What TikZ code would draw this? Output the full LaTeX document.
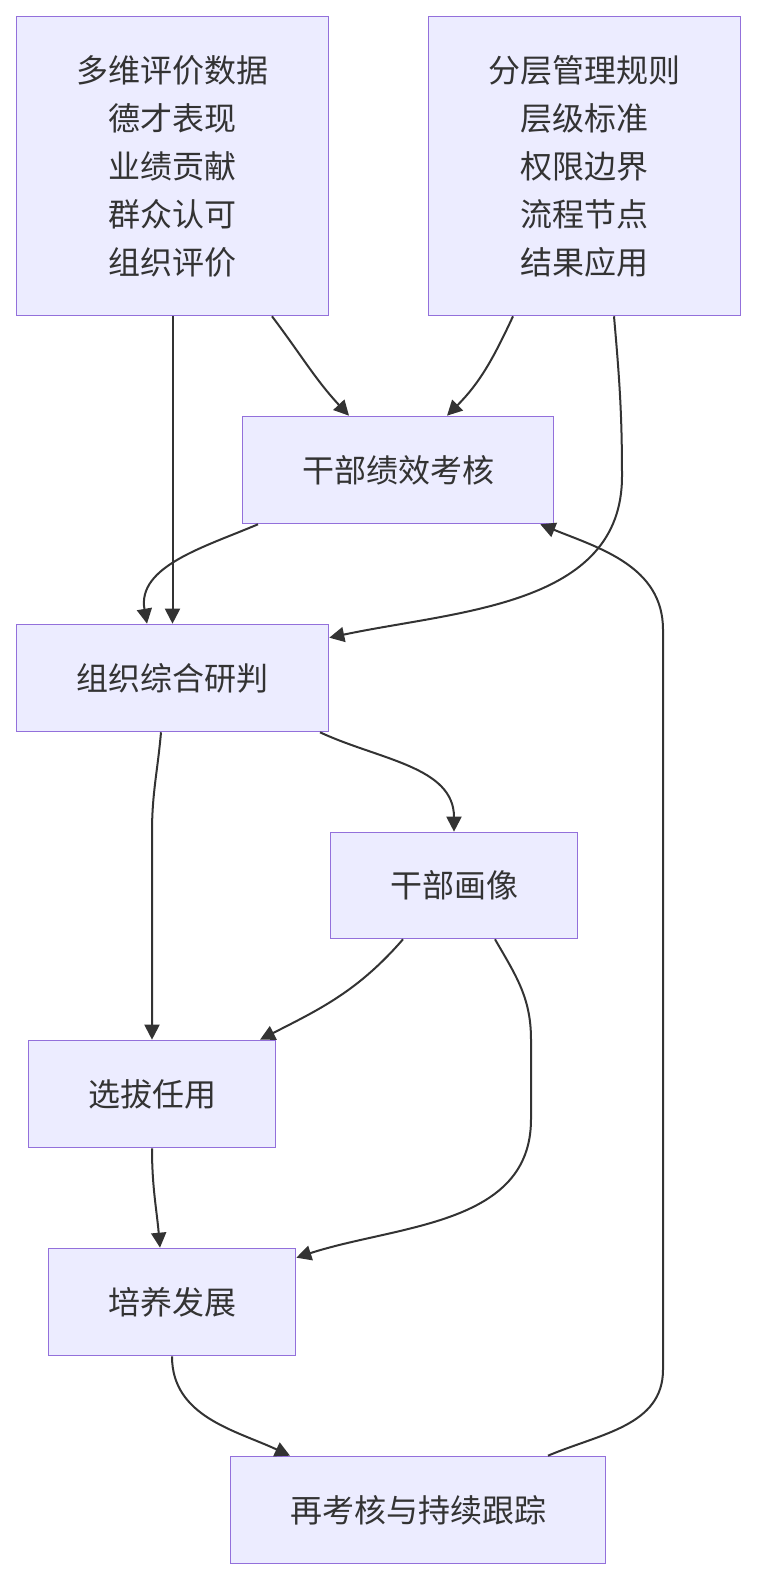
\documentclass[tikz,border=0pt]{standalone}
\usepackage{fontspec}
\setmainfont{Noto Sans CJK SC}
\usetikzlibrary{arrows.meta}
\definecolor{nen}{HTML}{ECECFF}
\definecolor{vien}{HTML}{9370DB}
\definecolor{chu}{HTML}{333333}
\begin{document}
\begin{tikzpicture}[x=1pt,y=1pt,
		khoi/.style={draw=vien,fill=nen,line width=1.6pt,inner sep=0pt,align=center,text=chu,font=\fontsize{32}{48}\selectfont},
		mui/.style={draw=chu,line width=2pt,-{Triangle[length=15pt,width=15pt]}}]
		\useasboundingbox (0,0) rectangle (756,1580);
		% Các khối
		\node[khoi,minimum width=312pt,minimum height=299pt] (shuju) at (172.5,1414) {多维评价数据\\德才表现\\业绩贡献\\群众认可\\组织评价};
		\node[khoi,minimum width=312pt,minimum height=299pt] (guize) at (584.5,1414) {分层管理规则\\层级标准\\权限边界\\流程节点\\结果应用};
		\node[khoi,minimum width=311pt,minimum height=107pt] (kaohe) at (398,1110) {干部绩效考核};
		\node[khoi,minimum width=312pt,minimum height=107pt] (yanpan) at (172.5,902) {组织综合研判};
		\node[khoi,minimum width=247pt,minimum height=106pt] (huaxiang) at (454,694.5) {干部画像};
		\node[khoi,minimum width=247pt,minimum height=107pt] (xuanba) at (152,486) {选拔任用};
		\node[khoi,minimum width=247pt,minimum height=107pt] (peiyang) at (172,278) {培养发展};
		\node[khoi,minimum width=375pt,minimum height=107pt] (genzong) at (418,70) {再考核与持续跟踪};
		% Các mũi tên
		\draw[mui] ([xshift=99.5pt]shuju.south) to[out=-53,in=133] ([xshift=-49pt]kaohe.north);
		\draw[mui] ([xshift=-71.5pt]guize.south) to[out=-115,in=45] ([xshift=49pt]kaohe.north);
		\draw[mui] (shuju.south) -- (yanpan.north);
		\draw[mui] ([xshift=-140pt]kaohe.south) to[out=-157,in=100] ([xshift=-25.5pt]yanpan.north);
		\draw[mui] ([xshift=29.5pt]guize.south) to[out=-85,in=90] ++(8,-160) to[out=-90,in=12] ([yshift=-14pt]yanpan.north east);
		\draw[mui] ([xshift=-11.5pt]yanpan.south) to[out=-95,in=90] ++(-9,-100) -- (xuanba.north);
		\draw[mui] ([xshift=147.5pt]yanpan.south) to[out=-25,in=90] (huaxiang.north);
		\draw[mui] ([xshift=-51pt]huaxiang.south) to[out=-131,in=27] ([xshift=108pt]xuanba.north);
		\draw[mui] ([xshift=41pt]huaxiang.south) to[out=-60,in=90] ++(36,-100) -- ++(0,-80) to[out=-90,in=18] ([yshift=-10pt]peiyang.north east);
		\draw[mui] (xuanba.south) to[out=-90,in=95] ([xshift=-12pt]peiyang.north);
		\draw[mui] (peiyang.south) to[out=-90,in=155] ([xshift=-128pt]genzong.north);
		\draw[mui] ([xshift=130pt]genzong.north) to[out=23,in=-90] ++(115,86) -- ++(0,740) to[out=90,in=-22] ([xshift=-14pt]kaohe.south east);
	\end{tikzpicture}
\end{document}
